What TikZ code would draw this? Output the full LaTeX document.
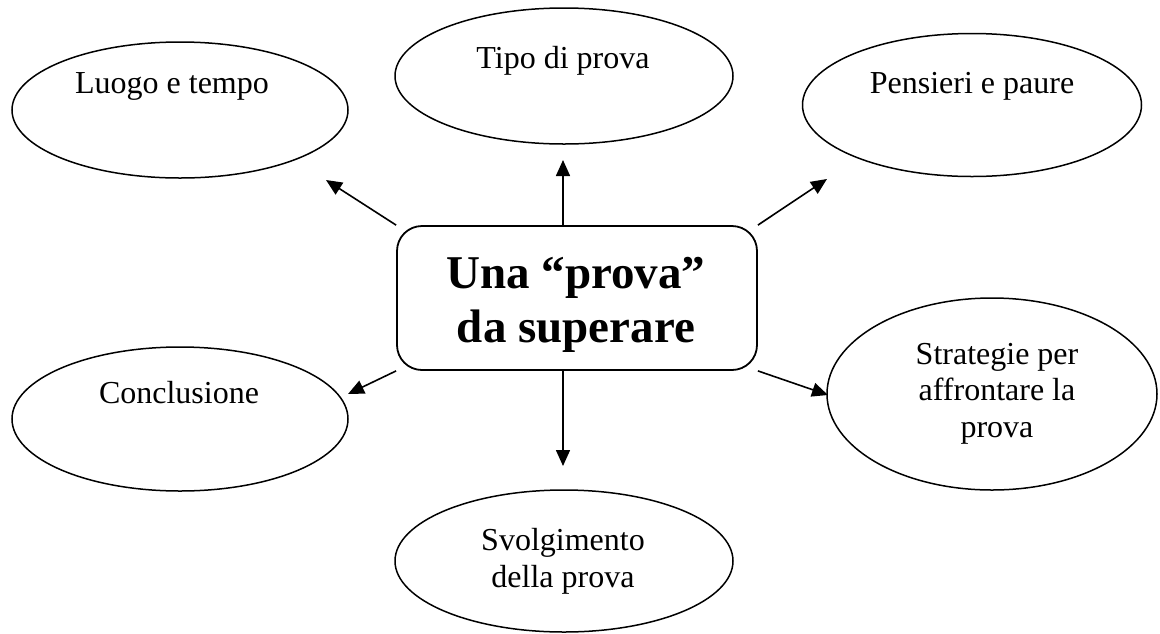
\documentclass[tikz,border=0pt]{standalone}
\usepackage{fontspec}
\setmainfont{Liberation Serif}
\usetikzlibrary{shapes.geometric,arrows.meta}
\tikzset{
  bubble/.style={draw, ellipse, line width=1.5pt, inner sep=0pt},
  lbl/.style={anchor=base, align=center, inner sep=0pt, font=\fontsize{32}{36.5}\selectfont},
  centerbox/.style={draw, line width=1.8pt, rounded corners=25pt, minimum width=360pt, minimum height=144pt, inner sep=0pt},
  arr/.style={line width=1.6pt, -{Triangle[length=16pt,width=14pt]}},
}
\begin{document}
\begin{tikzpicture}[x=1pt,y=-1pt]
\useasboundingbox (0,0) rectangle (1160,633);
% central box
\node[centerbox] (c) at (577,298) {};
\node[anchor=base, inner sep=0pt, align=center, font=\fontsize{47}{54}\selectfont\bfseries] (ct) at (576,342) {Una “prova”\\da superare};
% ellipses
\node[bubble, minimum width=336pt, minimum height=136pt] (luogo) at (180,110) {};
\node[bubble, minimum width=338pt, minimum height=136pt] (tipo) at (564,76) {};
\node[bubble, minimum width=339pt, minimum height=143pt] (pens) at (972,105) {};
\node[bubble, minimum width=336pt, minimum height=144pt] (concl) at (180,419) {};
\node[bubble, minimum width=330pt, minimum height=192pt] (strat) at (992,394) {};
\node[bubble, minimum width=338pt, minimum height=142pt] (svolg) at (564,561) {};
% labels
\node[lbl] (tluogo) at (172,93) {Luogo e tempo};
\node[lbl] (ttipo) at (563,68) {Tipo di prova};
\node[lbl] (tpens) at (972,93) {Pensieri e paure};
\node[lbl] (tconcl) at (179,403) {Conclusione};
\node[lbl] (tstrat) at (997,437) {Strategie per\\affrontare la\\prova};
\node[lbl] (tsvolg) at (563,587) {Svolgimento\\della prova};
% arrow ends
\coordinate (eluogo) at (326,180);
\coordinate (etipo) at (563,160);
\coordinate (epens) at (827,179);
\coordinate (econcl) at (348,394);
\coordinate (estrat) at (828,395);
\coordinate (esvolg) at (563,466);
\coordinate (stipo) at (563,226);
\coordinate (ssvolg) at (563,370);
% arrows
\draw[arr] (c.north west) -- (eluogo);
\draw[arr] (stipo) -- (etipo);
\draw[arr] (c.north east) -- (epens);
\draw[arr] (c.south west) -- (econcl);
\draw[arr] (ssvolg) -- (esvolg);
\draw[arr] (c.south east) -- (estrat);
\end{tikzpicture}
\end{document}
